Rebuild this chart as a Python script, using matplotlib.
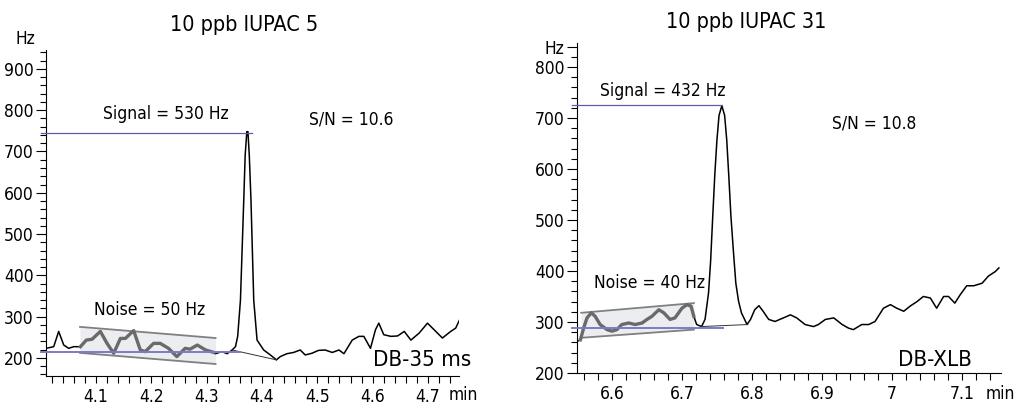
import numpy as np
import matplotlib
matplotlib.use("Agg")
import matplotlib.pyplot as plt
from matplotlib.ticker import MultipleLocator, FixedLocator

plt.rcParams['font.family'] = ['DejaVu Sans']
plt.rcParams['font.stretch'] = 'condensed'

# ---------------- DB-35 ms, IUPAC 5 ----------------
t_a = [4.010, 4.0235, 4.0325, 4.0416, 4.0506, 4.0596, 4.0717, 4.0825, 4.0928, 4.1078,
       4.1199, 4.1319, 4.144, 4.153, 4.168, 4.180, 4.189, 4.204, 4.216, 4.231,
       4.246, 4.261, 4.270, 4.283, 4.298, 4.313, 4.3157, 4.3277, 4.337, 4.346,
       4.352, 4.356, 4.361, 4.367, 4.3695, 4.3725, 4.3745, 4.377, 4.380, 4.385, 4.391,
       4.403, 4.415, 4.426, 4.433, 4.445, 4.457, 4.469, 4.478, 4.490, 4.502,
       4.514, 4.527, 4.539, 4.548, 4.563, 4.575, 4.584, 4.596, 4.605, 4.611,
       4.620, 4.633, 4.645, 4.657, 4.669, 4.684, 4.699, 4.711, 4.726, 4.741,
       4.750, 4.757]
hz_a = [223, 227, 264, 231, 223, 227, 227, 243, 245, 264,
        235, 211, 247, 247, 266, 219, 215, 235, 235, 223,
        203, 223, 221, 231, 219, 213, 210, 215, 210, 219,
        227, 252, 340, 583, 690, 748, 748, 690, 583, 340, 243,
        219, 207, 195, 203, 210, 213, 219, 207, 211, 218,
        219, 213, 219, 210, 243, 252, 252, 223, 268, 284,
        256, 252, 253, 264, 243, 260, 284, 268, 248, 264,
        272, 292]
noise_a = (4.0717, 4.313)          # time window of the noise trace
box_a_t = [4.071, 4.316]
box_a_top = [275, 248]
box_a_bot = [212, 185]
signal_a = 746
base_a = 215
base_a_line_t = [4.346, 4.426]
base_a_line_hz = [219, 195]

# ---------------- DB-XLB, IUPAC 31 ----------------
t_b = [6.550, 6.5548, 6.5595, 6.5643, 6.5705, 6.576, 6.583, 6.593, 6.600, 6.607,
       6.614, 6.624, 6.633, 6.643, 6.650, 6.657, 6.667, 6.674, 6.683, 6.690,
       6.700, 6.707, 6.713, 6.717, 6.721, 6.728, 6.733, 6.738, 6.741, 6.744, 6.747, 6.750,
       6.753, 6.757, 6.761, 6.764, 6.767, 6.770, 6.774, 6.777, 6.781, 6.785, 6.793, 6.798,
       6.804, 6.810, 6.816,
       6.824, 6.833, 6.845, 6.855, 6.864, 6.876, 6.888, 6.895, 6.905, 6.917,
       6.929, 6.938, 6.945, 6.957, 6.967, 6.976, 6.988, 6.998, 7.007, 7.017,
       7.026, 7.036, 7.045, 7.055, 7.064, 7.074, 7.081, 7.090, 7.098, 7.107,
       7.117, 7.129, 7.138, 7.148, 7.153]
hz_b = [262, 265, 288, 308, 318, 311, 295, 285, 282, 285,
        295, 298, 295, 298, 305, 311, 324, 318, 305, 308,
        327, 334, 331, 311, 295, 291, 305, 357, 420, 507, 590, 657,
        705, 724, 705, 657, 585, 507, 430, 376, 340, 318, 295, 305,
        324, 332, 321,
        305, 301, 308, 314, 308, 295, 291, 295, 305, 308,
        295, 288, 285, 295, 295, 301, 327, 334, 327, 321,
        331, 340, 350, 347, 327, 350, 350, 337, 354, 371,
        371, 376, 390, 399, 406]
noise_b = (6.5548, 6.717)
box_b_t = [6.556, 6.717]
box_b_top = [318, 337]
box_b_bot = [269, 285]
signal_b = 726
base_b = 288
base_b_line_t = [6.728, 6.794]
base_b_line_hz = [291, 295]

fig = plt.figure(figsize=(10.18, 4.11), dpi=100)
ax1 = fig.add_axes([0.0452, 0.0852, 0.4057, 0.7932])
ax2 = fig.add_axes([0.5668, 0.0925, 0.4165, 0.8029])

blue = '#5c5ca8'
fs = 12.5


def draw(ax, t, hz, nwin, bt, btop, bbot, sig, base, blt, blh, sig_x1, base_x1):
    t = np.array(t)
    hz = np.array(hz)
    xl = ax.get_xlim()
    # noise box
    ax.fill_between(bt, bbot, btop, color='#ecedf0', lw=0, zorder=1)
    ax.plot(bt, btop, color='#808080', lw=1.3, zorder=3)
    ax.plot(bt, bbot, color='#808080', lw=1.3, zorder=3)
    ax.plot(t, hz, color='black', lw=1.1, zorder=2)
    m = (t >= nwin[0]) & (t <= nwin[1])
    ax.plot(t[m], hz[m], color='#6a6a6a', lw=2.4, zorder=4)
    ax.plot(blt, blh, color='#333333', lw=0.7, zorder=2)
    x0 = xl[0] - 0.012 * (xl[1] - xl[0])
    ax.plot([x0, sig_x1], [sig, sig], color=blue, lw=0.9, clip_on=False, zorder=5)
    ax.plot([x0, base_x1], [base, base], color='#7b7bc4', lw=1.4, clip_on=False, zorder=5)
    for s in ['top', 'right']:
        ax.spines[s].set_visible(False)
    ax.spines['left'].set_linewidth(0.8)
    ax.spines['bottom'].set_linewidth(0.8)
    ax.tick_params(axis='y', which='major', length=7, width=0.8, labelsize=fs, pad=2)
    ax.tick_params(axis='y', which='minor', length=4, width=0.8)
    ax.tick_params(axis='x', which='both', length=5, width=0.8, labelsize=fs, pad=4)
    ax.xaxis.set_minor_locator(MultipleLocator(0.02))
    ax.yaxis.set_minor_locator(MultipleLocator(20))


# left panel
ax1.set_xlim(4.0096, 4.756)
ax1.set_ylim(156, 946)
draw(ax1, t_a, hz_a, noise_a, box_a_t, box_a_top, box_a_bot, signal_a, base_a,
     base_a_line_t, base_a_line_hz, 4.381, 4.361)
ax1.set_yticks([200, 300, 400, 500, 600, 700, 800, 900])
ax1.set_xticks([4.1, 4.2, 4.3, 4.4, 4.5, 4.6, 4.7])
ax1.set_xticklabels(['4.1', '4.2', '4.3', '4.4', '4.5', '4.6', '4.7'])
ax1.text(-0.05, 1.005, 'Hz', transform=ax1.transAxes, fontsize=fs, ha='center', va='bottom')
ax1.annotate('min', xy=(4.737, 0), xycoords=('data', 'axes fraction'), xytext=(0, -7),
             textcoords='offset points', ha='left', va='top', fontsize=fs)
ax1.set_title('10 ppb IUPAC 5', fontsize=15.5, pad=14, x=0.48)
ax1.text(4.227, 790, 'Signal = 530 Hz', ha='center', va='center', fontsize=fs)
ax1.text(4.561, 778, 'S/N = 10.6', ha='center', va='center', fontsize=fs)
ax1.text(4.196, 316, 'Noise = 50 Hz', ha='center', va='center', fontsize=fs)
ax1.text(4.69, 195, 'DB-35 ms', ha='center', va='center', fontsize=16)

# right panel
ax2.set_xlim(6.55, 7.156)
ax2.set_ylim(200, 847)
draw(ax2, t_b, hz_b, noise_b, box_b_t, box_b_top, box_b_bot, signal_b, base_b,
     base_b_line_t, base_b_line_hz, 6.757, 6.758)
ax2.yaxis.set_major_locator(FixedLocator([200, 300, 400, 500, 600, 700, 800, 840]))
ax2.set_yticklabels(['200', '300', '400', '500', '600', '700', '800', 'Hz'])
ax2.set_xticks([6.6, 6.7, 6.8, 6.9, 7.0, 7.1])
ax2.set_xticklabels(['6.6', '6.7', '6.8', '6.9', '7', '7.1'])
ax2.annotate('min', xy=(7.134, 0), xycoords=('data', 'axes fraction'), xytext=(0, -9),
             textcoords='offset points', ha='left', va='top', fontsize=fs)
ax2.set_title('10 ppb IUPAC 31', fontsize=15.5, pad=11, x=0.4)
ax2.text(6.672, 752, 'Signal = 432 Hz', ha='center', va='center', fontsize=fs)
ax2.text(6.974, 690, 'S/N = 10.8', ha='center', va='center', fontsize=fs)
ax2.text(6.653, 376, 'Noise = 40 Hz', ha='center', va='center', fontsize=fs)
ax2.text(7.062, 226, 'DB-XLB', ha='center', va='center', fontsize=16)

fig.savefig('out.png', dpi=100)
